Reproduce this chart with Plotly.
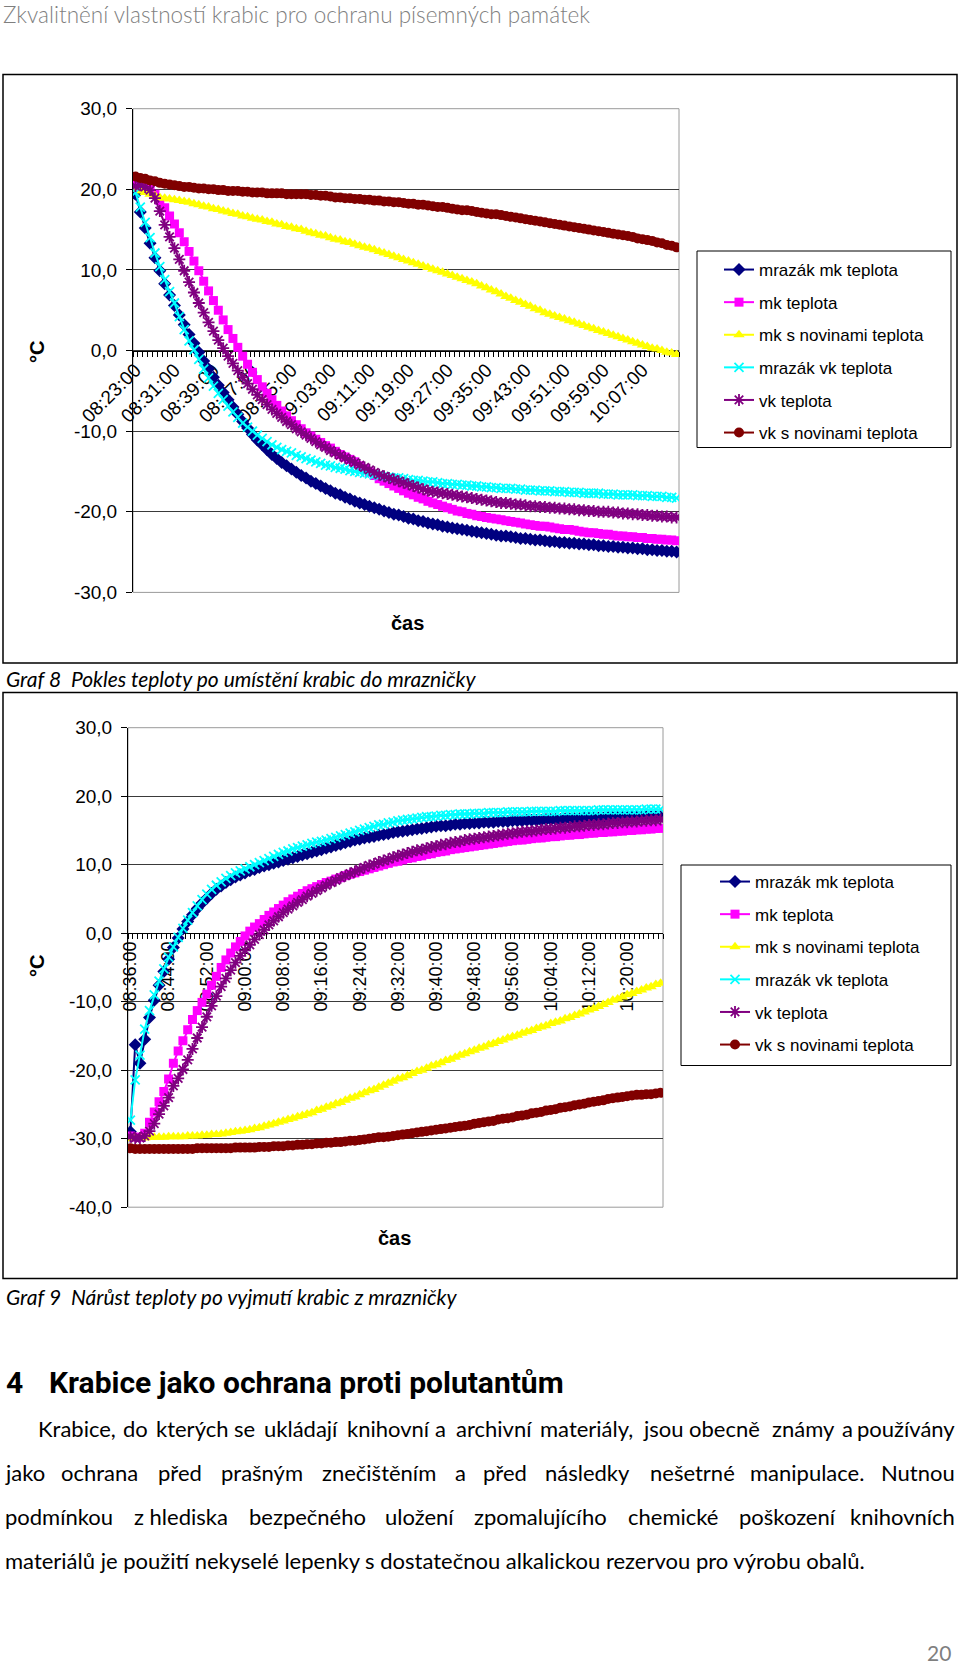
import plotly.graph_objects as go

W, H = 960, 1670

# ---------------- data ----------------
SERIES_NAMES = ["mrazák mk teplota", "mk teplota", "mk s novinami teplota",
                "mrazák vk teplota", "vk teplota", "vk s novinami teplota"]

G8_START = "08:23"
G9_START = "08:36"
G8_TICK_LABELS = ["08:23:00", "08:31:00", "08:39:00", "08:47:00", "08:55:00", "09:03:00", "09:11:00",
                  "09:19:00", "09:27:00", "09:35:00", "09:43:00", "09:51:00", "09:59:00", "10:07:00"]
G9_TICK_LABELS = ["08:36:00", "08:44:00", "08:52:00", "09:00:00", "09:08:00", "09:16:00", "09:24:00",
                  "09:32:00", "09:40:00", "09:48:00", "09:56:00", "10:04:00", "10:12:00", "10:20:00"]
G8_Y_TICKS = [-30, -20, -10, 0, 10, 20, 30]
G9_Y_TICKS = [-40, -30, -20, -10, 0, 10, 20, 30]

# Graf 8 - cooling
G8_MRAZAK_MK = [19.4, 17.2, 15.2, 13.3, 11.5, 9.9, 8.3, 6.9, 5.6, 4.4,
                3.2, 2.0, 0.9, -0.2, -1.3, -2.3, -3.3, -4.3, -5.2, -6.1,
                -7.0, -7.9, -8.8, -9.6, -10.4, -11.1, -11.7, -12.3, -12.9, -13.4,
                -13.9, -14.3, -14.7, -15.1, -15.5, -15.8, -16.2, -16.5, -16.8, -17.1,
                -17.4, -17.7, -17.9, -18.2, -18.4, -18.7, -18.9, -19.1, -19.3, -19.5,
                -19.7, -19.9, -20.1, -20.3, -20.4, -20.6, -20.8, -20.9, -21.1, -21.2,
                -21.4, -21.5, -21.6, -21.8, -21.9, -22.0, -22.1, -22.2, -22.3, -22.4,
                -22.5, -22.6, -22.7, -22.8, -22.9, -23.0, -23.0, -23.1, -23.2, -23.3,
                -23.3, -23.4, -23.5, -23.5, -23.6, -23.7, -23.7, -23.8, -23.8, -23.9,
                -23.9, -24.0, -24.0, -24.1, -24.1, -24.2, -24.2, -24.3, -24.3, -24.4,
                -24.4, -24.5, -24.5, -24.6, -24.6, -24.7, -24.7, -24.8, -24.8, -24.9,
                -24.9, -25.0]
G8_MK = [20.6, 20.7, 20.5, 20.1, 19.4, 18.6, 17.7, 16.7, 15.7, 14.6,
         13.5, 12.3, 11.1, 9.9, 8.6, 7.4, 6.2, 5.0, 3.8, 2.6,
         1.5, 0.4, -0.7, -1.7, -2.7, -3.6, -4.5, -5.3, -6.1, -6.8,
         -7.5, -8.1, -8.7, -9.2, -9.7, -10.2, -10.6, -11.0, -11.4, -11.8,
         -12.1, -12.5, -12.9, -13.2, -13.5, -13.8, -14.3, -14.7, -15.1, -15.5,
         -15.9, -16.2, -16.5, -16.8, -17.1, -17.4, -17.7, -17.9, -18.2, -18.4,
         -18.7, -18.9, -19.1, -19.3, -19.5, -19.7, -19.9, -20.0, -20.2, -20.3,
         -20.5, -20.6, -20.7, -20.8, -20.9, -21.0, -21.1, -21.2, -21.3, -21.4,
         -21.5, -21.6, -21.7, -21.8, -21.8, -21.9, -22.0, -22.1, -22.2, -22.2,
         -22.3, -22.4, -22.5, -22.6, -22.6, -22.7, -22.8, -22.8, -22.9, -23.0,
         -23.0, -23.1, -23.1, -23.2, -23.2, -23.3, -23.3, -23.4, -23.4, -23.5,
         -23.5, -23.6]
G8_MK_NOVINY = [20.0, 19.8, 19.6, 19.4, 19.2, 19.0, 18.9, 18.8, 18.7, 18.6,
                18.5, 18.4, 18.2, 18.1, 17.9, 17.8, 17.6, 17.5, 17.3, 17.2,
                17.0, 16.9, 16.7, 16.6, 16.4, 16.3, 16.2, 16.0, 15.9, 15.7,
                15.6, 15.4, 15.3, 15.1, 15.0, 14.8, 14.6, 14.5, 14.3, 14.2,
                14.0, 13.8, 13.7, 13.5, 13.4, 13.2, 13.0, 12.8, 12.7, 12.5,
                12.3, 12.1, 11.9, 11.7, 11.5, 11.3, 11.1, 10.9, 10.7, 10.5,
                10.3, 10.1, 9.9, 9.7, 9.5, 9.3, 9.1, 8.9, 8.7, 8.5,
                8.3, 8.0, 7.8, 7.5, 7.3, 7.0, 6.7, 6.5, 6.2, 6.0,
                5.7, 5.5, 5.2, 5.0, 4.7, 4.5, 4.3, 4.1, 3.9, 3.7,
                3.5, 3.3, 3.1, 2.9, 2.7, 2.5, 2.3, 2.1, 1.9, 1.7,
                1.5, 1.3, 1.1, 0.9, 0.7, 0.5, 0.3, 0.2, 0.0, -0.2,
                -0.3, -0.5]
G8_MRAZAK_VK = [19.6, 17.8, 15.9, 14.0, 12.1, 10.4, 8.8, 7.3, 5.9, 4.2,
                2.6, 1.2, 0.1, -1.1, -2.3, -3.4, -4.4, -5.3, -6.1, -6.9,
                -7.6, -8.3, -9.0, -9.5, -10.0, -10.5, -10.9, -11.3, -11.7, -12.0,
                -12.3, -12.5, -12.7, -13.0, -13.2, -13.4, -13.6, -13.8, -14.0, -14.2,
                -14.3, -14.5, -14.6, -14.7, -14.9, -15.0, -15.1, -15.2, -15.3, -15.4,
                -15.5, -15.6, -15.7, -15.8, -15.8, -15.9, -16.0, -16.1, -16.1, -16.2,
                -16.3, -16.3, -16.4, -16.5, -16.5, -16.6, -16.6, -16.7, -16.7, -16.8,
                -16.8, -16.9, -16.9, -17.0, -17.0, -17.1, -17.1, -17.1, -17.2, -17.2,
                -17.3, -17.3, -17.3, -17.4, -17.4, -17.4, -17.5, -17.5, -17.5, -17.6,
                -17.6, -17.6, -17.7, -17.7, -17.7, -17.7, -17.8, -17.8, -17.8, -17.9,
                -17.9, -17.9, -17.9, -18.0, -18.0, -18.0, -18.1, -18.1, -18.1, -18.2,
                -18.2, -18.3]
G8_VK = [20.4, 20.5, 20.3, 19.9, 18.9, 17.3, 15.6, 14.1, 12.7, 11.3,
         9.9, 8.5, 7.2, 5.9, 4.7, 3.5, 2.4, 1.3, 0.3, -0.7,
         -1.6, -2.5, -3.3, -4.1, -4.8, -5.5, -6.1, -6.7, -7.3, -7.8,
         -8.3, -8.8, -9.2, -9.7, -10.1, -10.5, -10.9, -11.3, -11.7, -12.0,
         -12.4, -12.7, -13.0, -13.3, -13.6, -13.9, -14.2, -14.5, -14.8, -15.1,
         -15.4, -15.6, -15.8, -16.0, -16.2, -16.4, -16.6, -16.8, -17.0, -17.2,
         -17.4, -17.5, -17.6, -17.7, -17.8, -17.9, -18.0, -18.1, -18.2, -18.3,
         -18.4, -18.5, -18.6, -18.7, -18.8, -18.9, -18.9, -19.0, -19.1, -19.1,
         -19.2, -19.3, -19.3, -19.4, -19.4, -19.5, -19.5, -19.6, -19.6, -19.7,
         -19.7, -19.8, -19.8, -19.9, -19.9, -20.0, -20.0, -20.0, -20.1, -20.1,
         -20.2, -20.2, -20.3, -20.3, -20.4, -20.4, -20.5, -20.5, -20.6, -20.6,
         -20.7, -20.7]
G8_VK_NOVINY = [21.6, 21.4, 21.3, 21.1, 21.0, 20.8, 20.7, 20.6, 20.5, 20.4,
                20.3, 20.3, 20.2, 20.1, 20.1, 20.0, 20.0, 19.9, 19.9, 19.8,
                19.8, 19.8, 19.7, 19.7, 19.6, 19.6, 19.6, 19.5, 19.5, 19.5,
                19.5, 19.4, 19.4, 19.4, 19.4, 19.4, 19.3, 19.3, 19.2, 19.2,
                19.1, 19.0, 19.0, 18.9, 18.9, 18.8, 18.8, 18.7, 18.7, 18.6,
                18.6, 18.5, 18.5, 18.4, 18.4, 18.3, 18.2, 18.2, 18.1, 18.1,
                18.0, 17.9, 17.8, 17.8, 17.7, 17.6, 17.5, 17.4, 17.4, 17.3,
                17.2, 17.1, 17.0, 16.9, 16.9, 16.8, 16.7, 16.6, 16.5, 16.4,
                16.3, 16.2, 16.1, 16.0, 15.9, 15.8, 15.7, 15.6, 15.5, 15.4,
                15.3, 15.2, 15.1, 15.0, 14.9, 14.8, 14.7, 14.6, 14.5, 14.4,
                14.3, 14.2, 14.1, 13.9, 13.8, 13.7, 13.6, 13.4, 13.3, 13.1,
                13.0, 12.8]

# Graf 9 - warming
G9_MRAZAK_MK = [-29.0, -16.3, -19.0, -15.5, -12.3, -9.8, -7.6, -5.6, -3.8, -2.1,
                -0.7, 0.6, 1.7, 2.7, 3.6, 4.4, 5.1, 5.8, 6.4, 6.9,
                7.4, 7.8, 8.2, 8.5, 8.8, 9.1, 9.3, 9.6, 9.8, 10.0,
                10.2, 10.4, 10.6, 10.8, 11.0, 11.2, 11.4, 11.6, 11.8, 12.0,
                12.2, 12.4, 12.6, 12.8, 13.0, 13.2, 13.4, 13.6, 13.7, 13.9,
                14.0, 14.1, 14.3, 14.4, 14.5, 14.7, 14.8, 14.9, 15.0, 15.1,
                15.2, 15.3, 15.4, 15.5, 15.6, 15.7, 15.7, 15.8, 15.9, 15.9,
                16.0, 16.0, 16.1, 16.1, 16.2, 16.2, 16.2, 16.3, 16.3, 16.3,
                16.4, 16.4, 16.4, 16.5, 16.5, 16.5, 16.5, 16.6, 16.6, 16.6,
                16.6, 16.7, 16.7, 16.7, 16.7, 16.8, 16.8, 16.8, 16.8, 16.8,
                16.9, 16.9, 16.9, 16.9, 16.9, 17.0, 17.0, 17.0, 17.0, 17.0,
                17.0, 17.0]
G9_MK = [-29.6, -29.8, -29.8, -29.2, -27.6, -26.1, -24.6, -23.1, -21.3, -19.0,
         -17.2, -15.7, -14.1, -12.6, -11.3, -10.1, -8.9, -7.6, -6.3, -5.0,
         -3.9, -2.9, -2.0, -1.2, -0.4, 0.3, 0.9, 1.4, 2.0, 2.6,
         3.1, 3.6, 4.1, 4.6, 5.0, 5.4, 5.8, 6.2, 6.5, 6.8,
         7.1, 7.4, 7.6, 7.9, 8.1, 8.4, 8.6, 8.8, 9.0, 9.2,
         9.4, 9.6, 9.8, 10.0, 10.2, 10.4, 10.5, 10.7, 10.9, 11.0,
         11.2, 11.3, 11.5, 11.6, 11.8, 11.9, 12.0, 12.2, 12.3, 12.4,
         12.5, 12.6, 12.7, 12.8, 12.9, 13.0, 13.1, 13.2, 13.3, 13.4,
         13.5, 13.6, 13.6, 13.7, 13.8, 13.9, 13.9, 14.0, 14.1, 14.1,
         14.2, 14.3, 14.3, 14.4, 14.4, 14.5, 14.6, 14.6, 14.7, 14.7,
         14.8, 14.8, 14.9, 14.9, 15.0, 15.0, 15.1, 15.1, 15.2, 15.2,
         15.3, 15.3]
G9_MK_NOVINY = [-30.0, -29.9, -29.9, -29.9, -29.8, -29.8, -29.8, -29.8, -29.7, -29.7,
                -29.7, -29.7, -29.6, -29.6, -29.6, -29.5, -29.5, -29.4, -29.4, -29.3,
                -29.2, -29.1, -29.0, -28.9, -28.8, -28.7, -28.5, -28.4, -28.2, -28.0,
                -27.8, -27.6, -27.4, -27.2, -27.0, -26.8, -26.6, -26.4, -26.2, -25.9,
                -25.7, -25.4, -25.2, -24.9, -24.7, -24.4, -24.1, -23.9, -23.6, -23.3,
                -23.0, -22.8, -22.5, -22.2, -21.9, -21.6, -21.3, -21.1, -20.8, -20.5,
                -20.2, -20.0, -19.7, -19.4, -19.2, -18.9, -18.6, -18.4, -18.1, -17.8,
                -17.6, -17.3, -17.1, -16.8, -16.6, -16.3, -16.1, -15.8, -15.6, -15.3,
                -15.1, -14.9, -14.6, -14.4, -14.2, -13.9, -13.7, -13.5, -13.2, -13.0,
                -12.8, -12.5, -12.3, -12.0, -11.8, -11.5, -11.2, -11.0, -10.7, -10.4,
                -10.1, -9.8, -9.6, -9.3, -9.0, -8.8, -8.5, -8.3, -8.0, -7.8,
                -7.5, -7.3]
G9_MRAZAK_VK = [-27.3, -21.4, -17.8, -14.0, -11.3, -9.0, -7.0, -5.2, -3.5, -2.0,
                -0.6, 0.7, 1.9, 3.0, 4.0, 4.9, 5.7, 6.4, 7.0, 7.5,
                8.0, 8.4, 8.8, 9.1, 9.4, 9.7, 10.0, 10.3, 10.6, 10.9,
                11.2, 11.5, 11.8, 12.0, 12.3, 12.5, 12.7, 12.9, 13.1, 13.3,
                13.4, 13.6, 13.8, 14.0, 14.2, 14.4, 14.6, 14.8, 15.0, 15.2,
                15.4, 15.6, 15.8, 15.9, 16.1, 16.2, 16.4, 16.5, 16.6, 16.7,
                16.8, 16.9, 17.0, 17.0, 17.1, 17.2, 17.2, 17.3, 17.3, 17.4,
                17.4, 17.4, 17.5, 17.5, 17.5, 17.6, 17.6, 17.6, 17.6, 17.7,
                17.7, 17.7, 17.7, 17.7, 17.8, 17.8, 17.8, 17.8, 17.8, 17.8,
                17.9, 17.9, 17.9, 17.9, 17.9, 17.9, 17.9, 17.9, 18.0, 18.0,
                18.0, 18.0, 18.0, 18.0, 18.0, 18.0, 18.0, 18.0, 18.1, 18.1,
                18.1, 18.1]
G9_VK = [-29.7, -29.9, -29.9, -29.6, -28.9, -27.8, -26.4, -25.2, -24.0, -22.3,
         -21.2, -19.9, -18.5, -16.9, -15.3, -13.7, -12.2, -10.6, -9.2, -7.8,
         -6.6, -5.4, -4.3, -3.3, -2.5, -1.7, -0.9, -0.2, 0.5, 1.2,
         1.8, 2.4, 3.0, 3.5, 4.0, 4.5, 4.9, 5.4, 5.8, 6.2,
         6.6, 7.0, 7.4, 7.7, 8.1, 8.4, 8.7, 9.0, 9.3, 9.6,
         9.9, 10.1, 10.4, 10.6, 10.8, 11.1, 11.3, 11.5, 11.7, 11.9,
         12.1, 12.2, 12.4, 12.6, 12.7, 12.9, 13.0, 13.2, 13.3, 13.4,
         13.6, 13.7, 13.8, 13.9, 14.0, 14.1, 14.2, 14.3, 14.4, 14.5,
         14.6, 14.7, 14.8, 14.9, 14.9, 15.0, 15.1, 15.2, 15.2, 15.3,
         15.4, 15.4, 15.5, 15.6, 15.6, 15.7, 15.8, 15.8, 15.9, 15.9,
         16.0, 16.1, 16.1, 16.2, 16.2, 16.3, 16.3, 16.4, 16.4, 16.5,
         16.5, 16.6]
G9_VK_NOVINY = [-31.4, -31.5, -31.5, -31.5, -31.5, -31.5, -31.5, -31.5, -31.5, -31.5,
                -31.5, -31.5, -31.5, -31.5, -31.4, -31.4, -31.4, -31.4, -31.4, -31.4,
                -31.4, -31.4, -31.3, -31.3, -31.3, -31.3, -31.3, -31.2, -31.2, -31.2,
                -31.1, -31.1, -31.1, -31.0, -31.0, -30.9, -30.9, -30.8, -30.8, -30.7,
                -30.7, -30.6, -30.6, -30.5, -30.5, -30.4, -30.3, -30.3, -30.2, -30.1,
                -30.0, -29.9, -29.8, -29.8, -29.7, -29.6, -29.5, -29.4, -29.3, -29.2,
                -29.1, -29.0, -28.9, -28.8, -28.7, -28.6, -28.5, -28.4, -28.3, -28.2,
                -28.1, -28.0, -27.8, -27.7, -27.6, -27.5, -27.4, -27.2, -27.1, -27.0,
                -26.9, -26.7, -26.6, -26.5, -26.3, -26.2, -26.1, -25.9, -25.8, -25.7,
                -25.5, -25.4, -25.3, -25.1, -25.0, -24.9, -24.7, -24.6, -24.5, -24.4,
                -24.2, -24.1, -24.0, -23.9, -23.8, -23.7, -23.6, -23.6, -23.5, -23.5,
                -23.4, -23.3]

# ---------------- helpers ----------------
def minute_categories(start, n):
    h, m = (int(v) for v in start.split(":"))
    base = h * 60 + m
    return [f"{(base + k) // 60:02d}:{(base + k) % 60:02d}:00" for k in range(n)]


def px(x):
    return x / W


def py(y):
    return 1 - y / H


ARIAL = "Liberation Sans, Arial, sans-serif"
CALIBRI = "Lato, Carlito, Calibri, sans-serif"
NARROW = "Roboto, Liberation Sans Narrow, sans-serif"

STYLES = [
    dict(color="#000080", symbol="diamond", size=10, open=False),
    dict(color="#FF00FF", symbol="square", size=9, open=False),
    dict(color="#FFFF00", symbol="triangle-up", size=10, open=False),
    dict(color="#00FFFF", symbol="x-thin-open", size=9, open=True),
    dict(color="#800080", symbol="asterisk-open", size=10, open=True),
    dict(color="#800000", symbol="circle", size=10, open=False),
]

CHARTS = [
    dict(ax="", legend="legend", start=G8_START, ticks=G8_TICK_LABELS, yticks=G8_Y_TICKS,
         series=[G8_MRAZAK_MK, G8_MK, G8_MK_NOVINY, G8_MRAZAK_VK, G8_VK, G8_VK_NOVINY],
         box=(133, 108.7, 679, 592.4), angle=-45, tickfont=19),
    dict(ax="2", legend="legend2", start=G9_START, ticks=G9_TICK_LABELS, yticks=G9_Y_TICKS,
         series=[G9_MRAZAK_MK, G9_MK, G9_MK_NOVINY, G9_MRAZAK_VK, G9_VK, G9_VK_NOVINY],
         box=(128, 727.7, 663, 1207.2), angle=-90, tickfont=18),
]

fig = go.Figure()
layout = {}
shapes = []

for ci, ch in enumerate(CHARTS):
    cats = minute_categories(ch["start"], len(ch["series"][0]))
    xs = list(range(len(cats)))
    tickvals = [cats.index(t) for t in ch["ticks"]]
    for si, (name, vals) in enumerate(zip(SERIES_NAMES, ch["series"])):
        st = STYLES[si]
        marker = dict(symbol=st["symbol"], size=st["size"], color=st["color"])
        if st["open"]:
            marker["line"] = dict(color=st["color"], width=1.8)
        else:
            marker["line"] = dict(width=0)
        fig.add_trace(go.Scatter(
            x=xs, y=vals, name=name, mode="lines+markers",
            line=dict(color=st["color"], width=2),
            marker=marker, customdata=cats,
            xaxis="x" + ch["ax"], yaxis="y" + ch["ax"],
            legend=ch["legend"], legendgroup=f"g{ci}_{si}",
        ))

    x0, y0, x1, y1 = ch["box"]
    ydom = [py(y1), py(y0)]
    ymin, ymax = min(ch["yticks"]), max(ch["yticks"])
    zero_pos = ydom[0] + (0 - ymin) / (ymax - ymin) * (ydom[1] - ydom[0])
    xkey = "xaxis" + ch["ax"]
    ykey = "yaxis" + ch["ax"]
    layout[xkey] = dict(
        domain=[px(x0), px(x1)], range=[-0.5, len(cats) - 0.5],
        anchor="free", position=zero_pos, automargin=False,
        showline=True, linecolor="black", linewidth=1,
        tickmode="array", tickvals=tickvals, ticktext=ch["ticks"],
        tickangle=ch["angle"], ticks="",
        minor=dict(ticks="outside", ticklen=5, tickcolor="black", tickwidth=1,
                   tickmode="linear", tick0=-0.5, dtick=1, showgrid=False),
        showgrid=False, zeroline=False, layer="below traces",
        tickfont=dict(family=ARIAL, size=ch["tickfont"], color="black"),
    )
    layout[ykey] = dict(
        domain=ydom, range=[ymin, ymax], anchor="x" + ch["ax"], automargin=False,
        tickmode="array", tickvals=ch["yticks"],
        ticktext=[f"{v:.1f}".replace(".", ",") for v in ch["yticks"]],
        ticks="outside", ticklen=6, tickcolor="black", ticklabelstandoff=5,
        showline=True, linecolor="black", linewidth=1,
        showgrid=True, gridcolor="#3a3a3a", gridwidth=1, zeroline=False,
        tickfont=dict(family=ARIAL, size=19, color="black"),
    )
    shapes.append(dict(type="rect", xref=f"x{ch['ax']} domain", yref=f"y{ch['ax']} domain",
                       x0=0, x1=1, y0=0, y1=1, line=dict(color="#9a9a9a", width=1), layer="below"))

# outer chart frames and legend boxes
for (fx0, fy0, fx1, fy1, lw) in [(3, 74.6, 957, 663, 1.5), (3, 692.6, 957, 1278.6, 1.5),
                                 (697, 251, 951, 447.5, 1), (681, 865, 951, 1065.5, 1)]:
    shapes.append(dict(type="rect", xref="paper", yref="paper", x0=px(fx0), x1=px(fx1),
                       y0=py(fy1), y1=py(fy0), line=dict(color="black", width=lw), layer="below"))

legend_common = dict(xanchor="left", yanchor="top", bgcolor="rgba(0,0,0,0)", borderwidth=0,
                     font=dict(family=ARIAL, size=17, color="black"), tracegroupgap=7.5,
                     itemwidth=30)
layout["legend"] = dict(x=px(719), y=py(252), **legend_common)
layout["legend2"] = dict(x=px(715), y=py(864), **legend_common)

ann = []


def text(x, y, s, size, family=ARIAL, color="black", xanchor="left", angle=0, weight=None):
    f = dict(family=family, size=size, color=color)
    if weight:
        f["weight"] = weight
    ann.append(dict(x=px(x), y=py(y), xref="paper", yref="paper", text=s, showarrow=False,
                    xanchor=xanchor, yanchor="middle", textangle=angle, font=f))


# axis titles
text(37, 352, "<b>°C</b>", 20, xanchor="center", angle=-90)
text(37, 966, "<b>°C</b>", 20, xanchor="center", angle=-90)
text(407, 623, "<b>čas</b>", 20, xanchor="center")
text(394, 1238, "<b>čas</b>", 20, xanchor="center")

# page texts
text(1, 14, "Zkvalitnění vlastností krabic pro ochranu písemných památek", 22.5, CALIBRI, "#7f7f7f", weight=300)
text(4, 678, "<i>Graf 8  Pokles teploty po umístění krabic do mrazničky</i>", 21, CALIBRI)
text(4, 1296, "<i>Graf 9  Nárůst teploty po vyjmutí krabic z mrazničky</i>", 21, CALIBRI)
text(4, 1382, "<b>4</b>", 30, NARROW)
text(47, 1382, "<b>Krabice jako ochrana proti polutantům</b>", 30, NARROW)

PARA_LINES = [
    (1428, [("Krabice,", 35.5), ("do", 120.6), ("kterých", 154.3), ("se", 231.5), ("ukládají", 261.5),
            ("knihovní", 344.8), ("a", 433), ("archivní", 454.4), ("materiály,", 537.7), ("jsou", 641),
            ("obecně", 687), ("známy", 770), ("a", 840), ("používány", None)]),
    (1472, [("jako", 3), ("ochrana", 59.4), ("před", 156), ("prašným", 218.6), ("znečištěním", 319.7),
            ("a", 453), ("před", 480.7), ("následky", 543), ("nešetrné", 648), ("manipulace.", 748.3),
            ("Nutnou", None)]),
    (1516.5, [("podmínkou", 3), ("z hlediska", 131.7), ("bezpečného", 246.8), ("uložení", 382.7),
              ("zpomalujícího", 471.5), ("chemické", 625.7), ("poškození", 736.7), ("knihovních", None)]),
    (1560.5, [("materiálů je použití nekyselé lepenky s dostatečnou alkalickou rezervou pro výrobu obalů.", 3)]),
]
for yy, words in PARA_LINES:
    for w, xx in words:
        if xx is None:
            text(957, yy, w, 22, CALIBRI, xanchor="right")
        else:
            text(xx, yy, w, 22, CALIBRI)

text(953, 1652, "20", 21, CALIBRI, "#7f7f7f", xanchor="right")

fig.update_layout(
    width=W, height=H, margin=dict(l=0, r=0, t=0, b=0, autoexpand=False),
    paper_bgcolor="white", plot_bgcolor="white", showlegend=True,
    shapes=shapes, annotations=ann, **layout,
)

fig.write_html("out.html", config={"displayModeBar": False},
               post_script="document.body.style.margin='0px';document.body.style.overflow='hidden';")
